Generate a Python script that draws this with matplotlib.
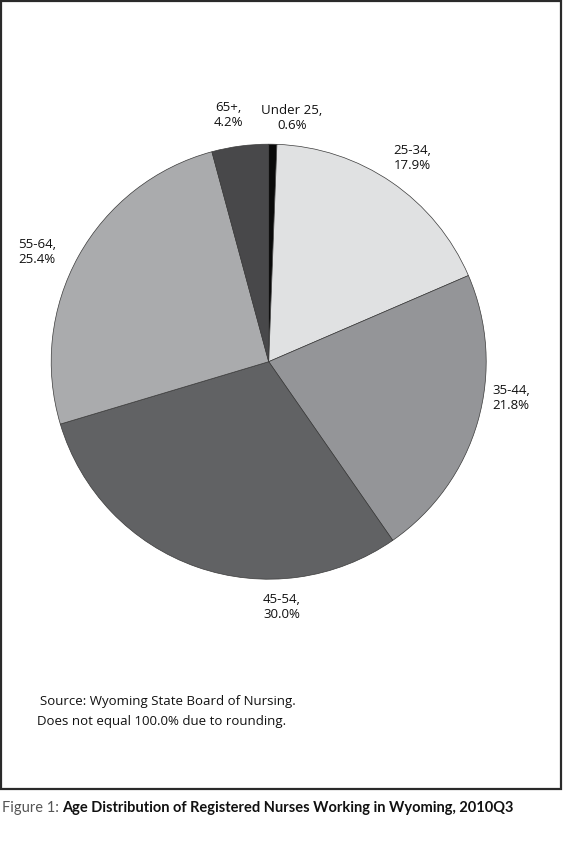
import matplotlib
matplotlib.use("Agg")
import matplotlib.pyplot as plt
from matplotlib.patches import Rectangle

categories = ["Under 25", "25-34", "35-44", "45-54", "55-64", "65+"]
values = [0.6, 17.9, 21.8, 30.0, 25.4, 4.2]
colors = ["#0a0a0a", "#e0e1e2", "#949598", "#616264", "#aaabad", "#48484a"]
# label anchor positions (image pixels, x, y from top)
label_pos = {
    "Under 25": (292, 118),
    "25-34": (412, 158),
    "35-44": (511, 398),
    "45-54": (282, 607),
    "55-64": (37, 252),
    "65+": (228, 115),
}
source_lines = ["Source: Wyoming State Board of Nursing.",
                "Does not equal 100.0% due to rounding."]
caption_prefix = "Figure 1:"
caption_title = "Age Distribution of Registered Nurses Working in Wyoming, 2010Q3"

W, H = 563, 844
FONT = "Open Sans"
plt.rcParams['font.family'] = [FONT, 'DejaVu Sans']

fig = plt.figure(figsize=(W / 100, H / 100), dpi=100)
ax = fig.add_axes([0, 0, 1, 1])
ax.set_xlim(0, W)
ax.set_ylim(0, H)
ax.set_aspect("equal")
ax.axis("off")

cx, cy, r = 268.7, H - 361.7, 217.5
ax.pie(values, colors=colors, startangle=90, counterclock=False,
       center=(cx, cy), radius=r, frame=True,
       wedgeprops=dict(edgecolor="#3a3a3a", linewidth=0.5))
ax.set_xlim(0, W)
ax.set_ylim(0, H)
ax.axis("off")

for cat, val in zip(categories, values):
    x, y = label_pos[cat]
    ax.text(x, H - y, f"{cat},\n{val:.1f}%", ha="center", va="center",
            multialignment="center", fontsize=9.5, color="#111111",
            linespacing=1.25)

ax.text(40, H - 702, source_lines[0], ha="left", va="center", fontsize=9.5, color="#111111")
ax.text(37, H - 721, source_lines[1], ha="left", va="center", fontsize=9.5, color="#111111")

# frame
ax.add_patch(Rectangle((1, H - 789), 560, 788, fill=False, edgecolor="#2a2a2a",
                       linewidth=1.6, clip_on=False))

cap_font = ["Lato", "DejaVu Sans"]
t1 = ax.text(2, H - 812, caption_prefix, ha="left", va="baseline", fontsize=10.5,
             color="#555555", family=cap_font)
ax.annotate(caption_title, xy=(1, 0), xycoords=t1, xytext=(2.5, 0),
            textcoords="offset points", ha="left", va="bottom",
            fontsize=10.5, fontweight="bold", color="#111111", family=cap_font)

fig.savefig("out.png", dpi=100)
